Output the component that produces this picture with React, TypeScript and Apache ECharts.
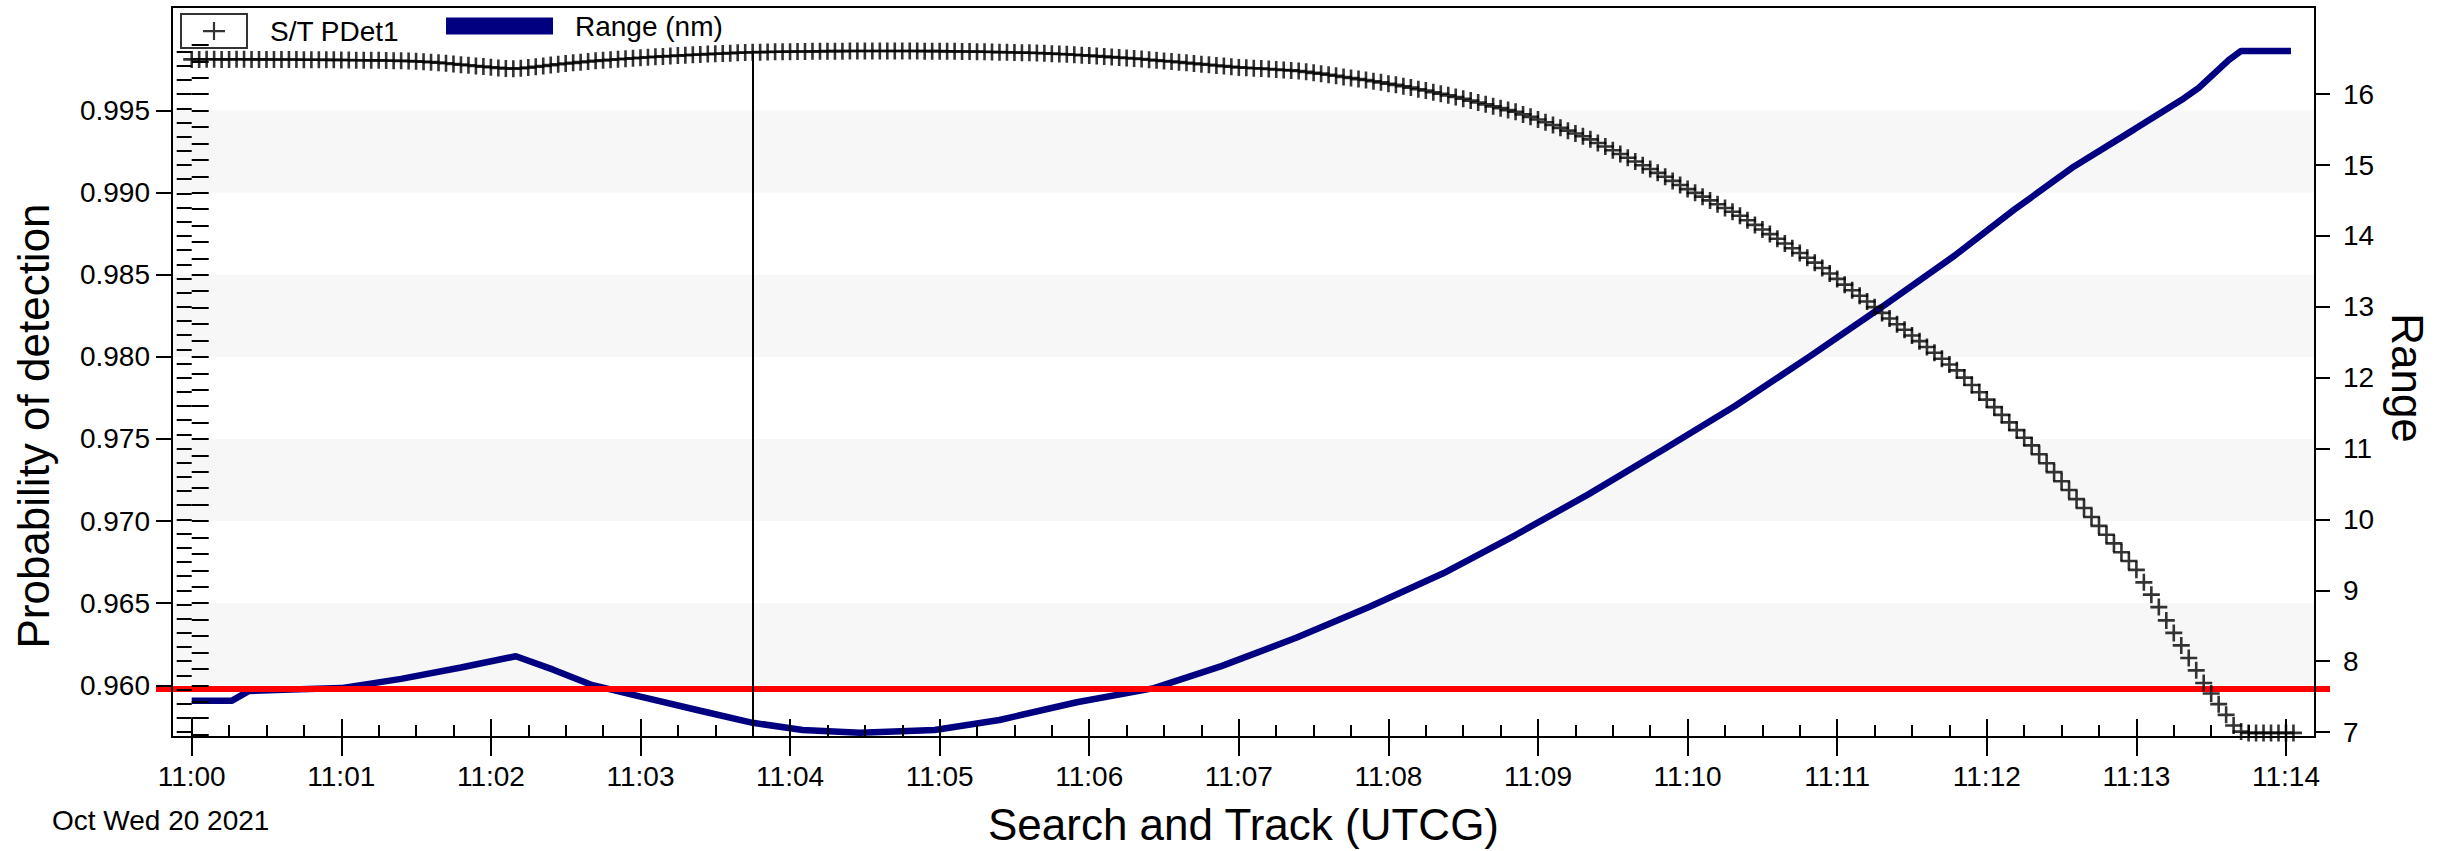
import React, { useEffect, useRef } from 'react';
import * as echarts from 'echarts';

// ---------- data ----------
const START_HOUR = 11;
const DATE_LABEL = 'Oct Wed 20 2021';
const X_TITLE = 'Search and Track (UTCG)';
const LEFT_TITLE = 'Probability of detection';
const RIGHT_TITLE = 'Range';
const PDET_NAME = 'S/T PDet1';
const RANGE_NAME = 'Range (nm)';

// x tick labels: minutes after 11:00
const X_TICKS = [0, 1, 2, 3, 4, 5, 6, 7, 8, 9, 10, 11, 12, 13, 14];
const PDET_TICKS = [0.96, 0.965, 0.97, 0.975, 0.98, 0.985, 0.99, 0.995];
const RANGE_TICKS = [7, 8, 9, 10, 11, 12, 13, 14, 15, 16];

// alternating shaded bands of the left axis
const BANDS: Array<[number, number]> = [
  [0.96, 0.965],
  [0.97, 0.975],
  [0.98, 0.985],
  [0.99, 0.995],
];

const THRESHOLD = 0.96; // red line
const CURSOR_S = 225; // time cursor, seconds after 11:00

// probability of detection, one sample every 3 s from 11:00:00
const PDET_STEP_S = 3;
const PDET = [
  0.99812, 0.99812, 0.99813, 0.99813, 0.99812, 0.99812, 0.99813, 0.99813, 0.99812, 0.99812,
  0.99812, 0.99811, 0.99811, 0.99811, 0.99811, 0.9981, 0.9981, 0.9981, 0.99809, 0.99809,
  0.99808, 0.99808, 0.99807, 0.99807, 0.99806, 0.99806, 0.99805, 0.99804, 0.99803, 0.99802,
  0.998, 0.99798, 0.99795, 0.99792, 0.99788, 0.99784, 0.9978, 0.99776, 0.99772, 0.99768,
  0.99764, 0.9976, 0.99757, 0.99755, 0.99758, 0.99762, 0.99767, 0.99772, 0.99777, 0.99782,
  0.99787, 0.99791, 0.99795, 0.99799, 0.99803, 0.99806, 0.9981, 0.99813, 0.99816, 0.99819,
  0.99822, 0.99825, 0.99828, 0.9983, 0.99833, 0.99835, 0.99837, 0.9984, 0.99842, 0.99844,
  0.99846, 0.99848, 0.9985, 0.99852, 0.99854, 0.99855, 0.99856, 0.99857, 0.99858, 0.99858,
  0.99859, 0.9986, 0.9986, 0.99861, 0.99861, 0.99862, 0.99862, 0.99862, 0.99863, 0.99863,
  0.99863, 0.99863, 0.99863, 0.99863, 0.99863, 0.99863, 0.99863, 0.99863, 0.99862, 0.99862,
  0.99862, 0.99861, 0.99861, 0.9986, 0.9986, 0.99859, 0.99858, 0.99857, 0.99856, 0.99855,
  0.99854, 0.99853, 0.99852, 0.99851, 0.99849, 0.99847, 0.99845, 0.99843, 0.9984, 0.99837,
  0.99835, 0.99832, 0.99829, 0.99826, 0.99823, 0.9982, 0.99817, 0.99814, 0.9981, 0.99806,
  0.99802, 0.99799, 0.99795, 0.99791, 0.99787, 0.99783, 0.99779, 0.99775, 0.99771, 0.99767,
  0.99763, 0.99761, 0.99758, 0.99756, 0.99753, 0.9975, 0.99747, 0.99745, 0.99741, 0.99736,
  0.9973, 0.99725, 0.99718, 0.99712, 0.99705, 0.99699, 0.99692, 0.99686, 0.99679, 0.99672,
  0.99664, 0.99657, 0.99648, 0.9964, 0.9963, 0.99622, 0.99612, 0.99603, 0.99593, 0.99583,
  0.99572, 0.99561, 0.99549, 0.99538, 0.99526, 0.99515, 0.99503, 0.99493, 0.99477, 0.99462,
  0.99446, 0.99429, 0.99412, 0.99395, 0.99378, 0.99361, 0.99344, 0.99325, 0.99303, 0.99281,
  0.99259, 0.99236, 0.99213, 0.9919, 0.99167, 0.99144, 0.99121, 0.99097, 0.99072, 0.99047,
  0.99022, 0.98999, 0.98976, 0.98953, 0.9893, 0.98907, 0.98884, 0.9886, 0.98832, 0.98804,
  0.98776, 0.98748, 0.9872, 0.98691, 0.98662, 0.98633, 0.98604, 0.98574, 0.98541, 0.98508,
  0.98475, 0.9844, 0.98406, 0.98372, 0.98337, 0.98303, 0.98268, 0.98234, 0.98199, 0.98165,
  0.9813, 0.98096, 0.9806, 0.98025, 0.97989, 0.97954, 0.97918, 0.97874, 0.97829, 0.97785,
  0.9774, 0.97694, 0.97647, 0.97601, 0.97554, 0.97508, 0.97461, 0.97407, 0.97352, 0.97298,
  0.97243, 0.97189, 0.97134, 0.9708, 0.97025, 0.96971, 0.96917, 0.96864, 0.9681, 0.96757,
  0.96703, 0.96627, 0.96552, 0.96476, 0.96395, 0.96319, 0.96243, 0.96166, 0.96091, 0.96014,
  0.9595, 0.95885, 0.9582, 0.95755, 0.95718, 0.9571, 0.9571, 0.9571, 0.9571, 0.9571,
  0.9571, 0.9571,
];

// range in nautical miles: [seconds after 11:00, nm]
const RANGE_NM: Array<[number, number]> = [
  [0, 7.44], [16, 7.44], [23, 7.58], [40, 7.6], [60, 7.62], [84, 7.75], [108, 7.91],
  [130, 8.07], [145, 7.88], [160, 7.67], [180, 7.5], [204, 7.3], [225, 7.13], [245, 7.03],
  [268, 6.99], [298, 7.03], [324, 7.17], [355, 7.42], [386, 7.62], [413, 7.93], [443, 8.33],
  [472, 8.76], [502, 9.24], [531, 9.78], [560, 10.35], [590, 10.98], [619, 11.6],
  [649, 12.3], [678, 13.0], [707, 13.72], [731, 14.37], [755, 14.98], [779, 15.5],
  [799, 15.94], [805, 16.09], [817, 16.48], [822, 16.61], [842, 16.61],
];

// axis extents
const X_MIN = -0.1317;
const X_MAX = 14.194;
const P_MIN = 0.95685;
const P_MAX = 1.00131;
const R_MIN = 6.93;
const R_MAX = 17.23;

// inner (unlabelled) tick runs
const P_INNER = { from: 0.957, to: 0.999, step: 0.001, dec: 3 };
const R_INNER = { from: 7, to: 16.6, step: 0.2, dec: 1 };

// ---------- helpers ----------
const FONT = "'Liberation Sans', Arial, Helvetica, sans-serif";
const PLUS = 'path://M0 7.2H17V9.8H0Z M7.2 0H9.8V17H7.2Z';
const BOX_PLUS = 'path://M0 0H68V36H0Z M2 2V34H66V2Z M23 17H45V19.2H23Z M32.9 9H35.1V27H32.9Z';

function run(r: { from: number; to: number; step: number; dec: number }) {
  const out: number[] = [];
  const n = Math.round((r.to - r.from) / r.step);
  for (let i = 0; i <= n; i++) out.push(+(r.from + i * r.step).toFixed(r.dec));
  return out;
}

function buildOption() {
  const tick = { color: '#000', width: 2 };
  const axisLine = { show: true, onZero: false, lineStyle: { color: '#000', width: 2 } };
  const label = { fontSize: 28, color: '#000', fontFamily: FONT };
  const title = { fontSize: 44, color: '#000', fontFamily: FONT };

  return {
    animation: false,
    textStyle: { fontFamily: FONT, color: '#000' },
    grid: [
      { left: 172, right: 136, top: 7, bottom: 110, show: true, borderColor: '#000', borderWidth: 2, z: 10 },
      { left: 156, right: 121, top: 7, bottom: 110 },
    ],
    legend: [
      {
        data: [{ name: PDET_NAME, icon: BOX_PLUS }],
        left: 180, top: 13, padding: 0, itemWidth: 68, itemHeight: 36,
        selectedMode: false,
        textStyle: { ...label, padding: [0, 0, 0, 17] },
      },
      {
        data: [{ name: RANGE_NAME, icon: 'rect' }],
        left: 446, top: 12, padding: 0, itemWidth: 107, itemHeight: 17,
        selectedMode: false,
        textStyle: { ...label, padding: [0, 0, 0, 17] },
      },
    ],
    graphic: [
      {
        type: 'text', left: 52, top: 806, z: 20,
        style: { text: DATE_LABEL, fontSize: 28, fill: '#000', fontFamily: FONT },
      },
    ],
    xAxis: [
      {
        type: 'value', gridIndex: 0, position: 'bottom', min: X_MIN, max: X_MAX, splitNumber: 14, z: 10,
        axisLine,
        axisTick: { show: true, inside: false, length: 19, customValues: X_TICKS, lineStyle: tick },
        axisLabel: {
          ...label, margin: 25, customValues: X_TICKS,
          formatter: (v: number) => `${START_HOUR}:${String(Math.round(v)).padStart(2, '0')}`,
        },
        splitLine: { show: false },
        name: X_TITLE, nameLocation: 'middle', nameGap: 65, nameTextStyle: title,
      },
      {
        type: 'value', gridIndex: 0, position: 'bottom', min: X_MIN, max: X_MAX, splitNumber: 14, z: 10,
        axisLine: { show: false },
        axisLabel: { show: false },
        splitLine: { show: false },
        axisTick: { show: true, inside: true, length: 18, customValues: X_TICKS, lineStyle: tick },
        minorTick: { show: true, splitNumber: 4, length: 12, lineStyle: tick },
      },
      { type: 'value', gridIndex: 1, min: 0, max: 1, show: false },
    ],
    yAxis: [
      {
        type: 'value', gridIndex: 0, position: 'left', min: P_MIN, max: P_MAX, splitNumber: 9, z: 10,
        axisLine,
        axisTick: { show: true, inside: false, length: 16, customValues: PDET_TICKS, lineStyle: tick },
        axisLabel: { ...label, margin: 22, customValues: PDET_TICKS, formatter: (v: number) => v.toFixed(3) },
        splitLine: { show: false },
        name: LEFT_TITLE, nameLocation: 'middle', nameGap: 117,
        nameTextStyle: { ...title, padding: [0, 108, 0, 0] },
      },
      {
        type: 'value', gridIndex: 0, position: 'left', min: P_MIN, max: P_MAX, splitNumber: 9, z: 10,
        axisLine: { show: false },
        axisLabel: { show: false },
        splitLine: { show: false },
        axisTick: { show: true, inside: true, length: 17, customValues: run(P_INNER), lineStyle: tick },
      },
      {
        type: 'value', gridIndex: 0, position: 'right', min: R_MIN, max: R_MAX, splitNumber: 10, z: 10,
        axisLine,
        axisTick: { show: true, inside: false, length: 15, customValues: RANGE_TICKS, lineStyle: tick },
        axisLabel: { ...label, margin: 28, customValues: RANGE_TICKS },
        splitLine: { show: false },
        name: RIGHT_TITLE, nameLocation: 'middle', nameGap: 70, nameRotate: -90,
        nameTextStyle: { ...title, padding: [0, 0, 0, 12] },
      },
      {
        type: 'value', gridIndex: 0, position: 'right', min: R_MIN, max: R_MAX, splitNumber: 10, z: 10,
        axisLine: { show: false },
        axisLabel: { show: false },
        splitLine: { show: false },
        axisTick: { show: true, inside: true, length: 15, customValues: run(R_INNER), lineStyle: tick },
      },
      { type: 'value', gridIndex: 1, min: P_MIN, max: P_MAX, show: false },
    ],
    series: [
      {
        name: 'bands', type: 'line', xAxisIndex: 0, yAxisIndex: 0, data: [], z: 1, silent: true,
        markArea: {
          silent: true,
          itemStyle: { color: '#f7f7f7' },
          data: BANDS.map(([a, b]) => [{ yAxis: a }, { yAxis: b }]),
        },
      },
      {
        name: RANGE_NAME, type: 'line', xAxisIndex: 0, yAxisIndex: 2,
        data: RANGE_NM.map(([s, r]) => [s / 60, r]),
        symbol: 'none', showSymbol: false, color: '#000080',
        lineStyle: { color: '#000080', width: 6.5 }, z: 2, silent: true,
      },
      {
        name: 'threshold', type: 'line', xAxisIndex: 2, yAxisIndex: 4,
        data: [[0, THRESHOLD], [1, THRESHOLD]],
        symbol: 'none', showSymbol: false,
        lineStyle: { color: '#ff0000', width: 6 }, z: 3, silent: true,
      },
      {
        name: PDET_NAME, type: 'scatter', xAxisIndex: 0, yAxisIndex: 0,
        data: PDET.map((v, i) => [(i * PDET_STEP_S) / 60, v]),
        symbol: PLUS, symbolSize: 17, itemStyle: { color: '#000' }, z: 4, silent: true,
        markLine: {
          silent: true, symbol: ['none', 'none'], label: { show: false },
          lineStyle: { color: '#000', width: 2, type: 'solid' },
          data: [[
            { coord: [CURSOR_S / 60, PDET[CURSOR_S / PDET_STEP_S]] },
            { coord: [CURSOR_S / 60, P_MIN] },
          ]],
        },
      },
    ],
  };
}

export default function App() {
  const ref = useRef<HTMLDivElement>(null);
  useEffect(() => {
    if (!ref.current) return;
    const chart = echarts.init(ref.current, undefined, { renderer: 'svg' });
    chart.setOption(buildOption() as any);
    return () => chart.dispose();
  }, []);
  return (
    <div
      ref={ref}
      style={{ position: 'absolute', left: 0, top: 0, width: 2451, height: 851, background: '#fff' }}
    />
  );
}
